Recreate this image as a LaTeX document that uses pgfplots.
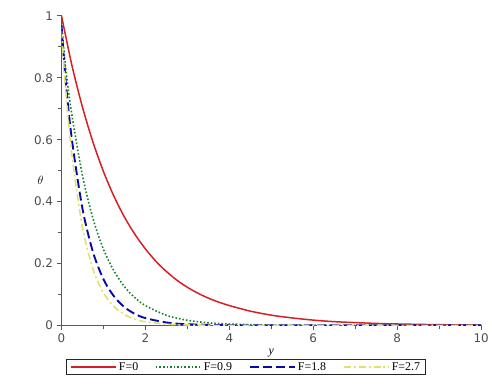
\documentclass[border=0pt]{standalone}
\usepackage{fontspec}
\setmainfont{Liberation Serif}
\setsansfont{DejaVu Sans}
\usepackage{pgfplots}
\pgfplotsset{compat=1.18}
\definecolor{cred}{RGB}{215,30,35}
\definecolor{cgreen}{RGB}{20,130,40}
\definecolor{cblue}{RGB}{10,10,170}
\definecolor{cyellow}{RGB}{225,225,110}
\begin{document}
\begin{tikzpicture}
\begin{axis}[
  scale only axis,
  width=423pt, height=312pt,
  xmin=0, xmax=10, ymin=0, ymax=1,
  axis x line=bottom, axis y line=left,
  axis line style={-, black!65, line width=1pt},
  xtick={0,2,4,6,8,10}, ytick={0,0.2,0.4,0.6,0.8,1},
  yticklabels={0,0.2,0.4,0.6,0.8,1},
  minor x tick num=1, minor y tick num=1,
  tick align=outside,
  major tick length=5pt, minor tick length=4pt,
  tick style={black!65, line width=0.9pt},
  /pgf/number format/assume math mode=true,
  ticklabel style={font=\sffamily\fontsize{12}{13}\selectfont, text=black!70},
  xlabel={\textit{y}}, ylabel={$\theta$},
  xlabel style={font=\fontsize{12}{12}\selectfont, yshift=1pt},
  ylabel style={at={(axis description cs:-0.05,0.47)}, anchor=center, rotate=-90, font=\fontsize{12}{12}\selectfont},
  legend columns=4,
  legend style={at={(0.44,-0.11)}, anchor=north, draw=black!85, line width=1pt,
    font=\fontsize{12}{12}\selectfont, inner xsep=4pt, inner ysep=0.5pt,
    /tikz/every even column/.append style={column sep=15pt}},
  legend image code/.code={\draw[#1] (0cm,0cm) -- (1.6cm,0cm);},
]
\addplot[draw=cred, line width=1.5pt, smooth] coordinates {
(0,1.000) (0.25,0.839) (0.5,0.705) (0.75,0.592) (1,0.497) (1.25,0.417) (1.5,0.350)
(1.75,0.294) (2,0.247) (2.25,0.207) (2.5,0.174) (2.75,0.146) (3,0.123) (3.25,0.104)
(3.5,0.088) (3.75,0.075) (4,0.064) (4.5,0.046) (5,0.033) (5.5,0.024) (6,0.017)
(6.5,0.012) (7,0.009) (7.5,0.0063) (8,0.0045) (9,0.0022) (10,0.001)};
\addlegendentry{F=0}
\addplot[draw=cgreen, line width=1.6pt, dotted, smooth] coordinates {
(0,0.98) (0.1,0.830) (0.25,0.678) (0.5,0.484) (0.75,0.345) (1,0.246) (1.25,0.176)
(1.5,0.125) (1.75,0.0895) (2,0.0639) (2.5,0.0325) (3,0.0165) (3.5,0.0084) (4,0.0043)
(5,0.0011) (6,0.0003) (8,0.0000) (10,0.0000)};
\addlegendentry{F=0.9}
\addplot[draw=cblue, line width=1.9pt, dash pattern=on 9pt off 4pt, smooth] coordinates {
(0,0.97) (0.1,0.789) (0.25,0.598) (0.5,0.377) (0.75,0.237) (1,0.149) (1.25,0.094)
(1.5,0.059) (1.75,0.037) (2,0.0235) (2.5,0.0093) (3,0.0037) (4,0.0006) (5,0.0001)
(10,0.0000)};
\addlegendentry{F=1.8}
\addplot[draw=cyellow, line width=1.6pt, dash pattern=on 7pt off 3pt on 2pt off 3pt, smooth] coordinates {
(0,0.95) (0.1,0.762) (0.25,0.548) (0.5,0.316) (0.75,0.182) (1,0.105) (1.25,0.061)
(1.5,0.035) (1.75,0.020) (2,0.0117) (2.5,0.0039) (3,0.0013) (4,0.0001) (10,0.0000)};
\addlegendentry{F=2.7}
\end{axis}
\path (-62pt,-59pt) rectangle (430pt,328pt);
\end{tikzpicture}
\end{document}
